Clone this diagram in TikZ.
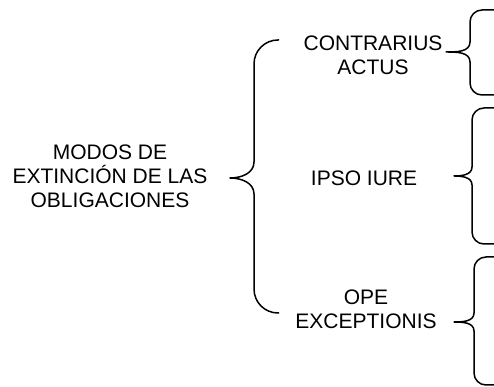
\documentclass[tikz,border=0pt]{standalone}
\usepackage{fontspec}
\setmainfont{Liberation Sans}
\usepackage{tikz}
% #1 end x, #2 stem x, #3 tip x, #4 top y, #5 tip y, #6 bottom y, #7 corner radius, #8 tip half height
\newcommand{\bracepath}[8]{%
    \draw[brace line] (#1,#4) -- (#2+#7,#4) to[out=180,in=90] (#2,#4-#7) -- (#2,#5+#8) to[out=-90,in=0] (#3,#5)
        to[out=0,in=90] (#2,#5-#8) -- (#2,#6+#7) to[out=-90,in=180] (#2+#7,#6) -- (#1,#6);}

\begin{document}
\begin{tikzpicture}[x=1pt, y=1pt, brace line/.style={line width=1.5pt, line join=round}, modo/.style={inner sep=0pt, align=center, font=\fontsize{21}{24}\selectfont}]
    \useasboundingbox (0,0) rectangle (494,387);
    \node[modo] (modos de extincion) at (110,211) {MODOS DE\\EXTINCIÓN DE LAS\\OBLIGACIONES};
    \node[modo] (contrarius actus) at (373,332) {CONTRARIUS\\ACTUS};
    \node[modo] (ipso iure) at (364,208.5) {IPSO IURE};
    \node[modo] (ope exceptionis) at (366,77.5) {OPE\\EXCEPTIONIS};

    \bracepath{279}{254}{230}{347}{209}{74}{24}{16}
    \bracepath{494}{470}{446}{377}{335}{292}{12}{10}
    \bracepath{494}{472}{454}{279}{211}{143}{12}{9}
    \bracepath{494}{474}{454}{130}{65}{2}{12}{9}
\end{tikzpicture}
\end{document}
